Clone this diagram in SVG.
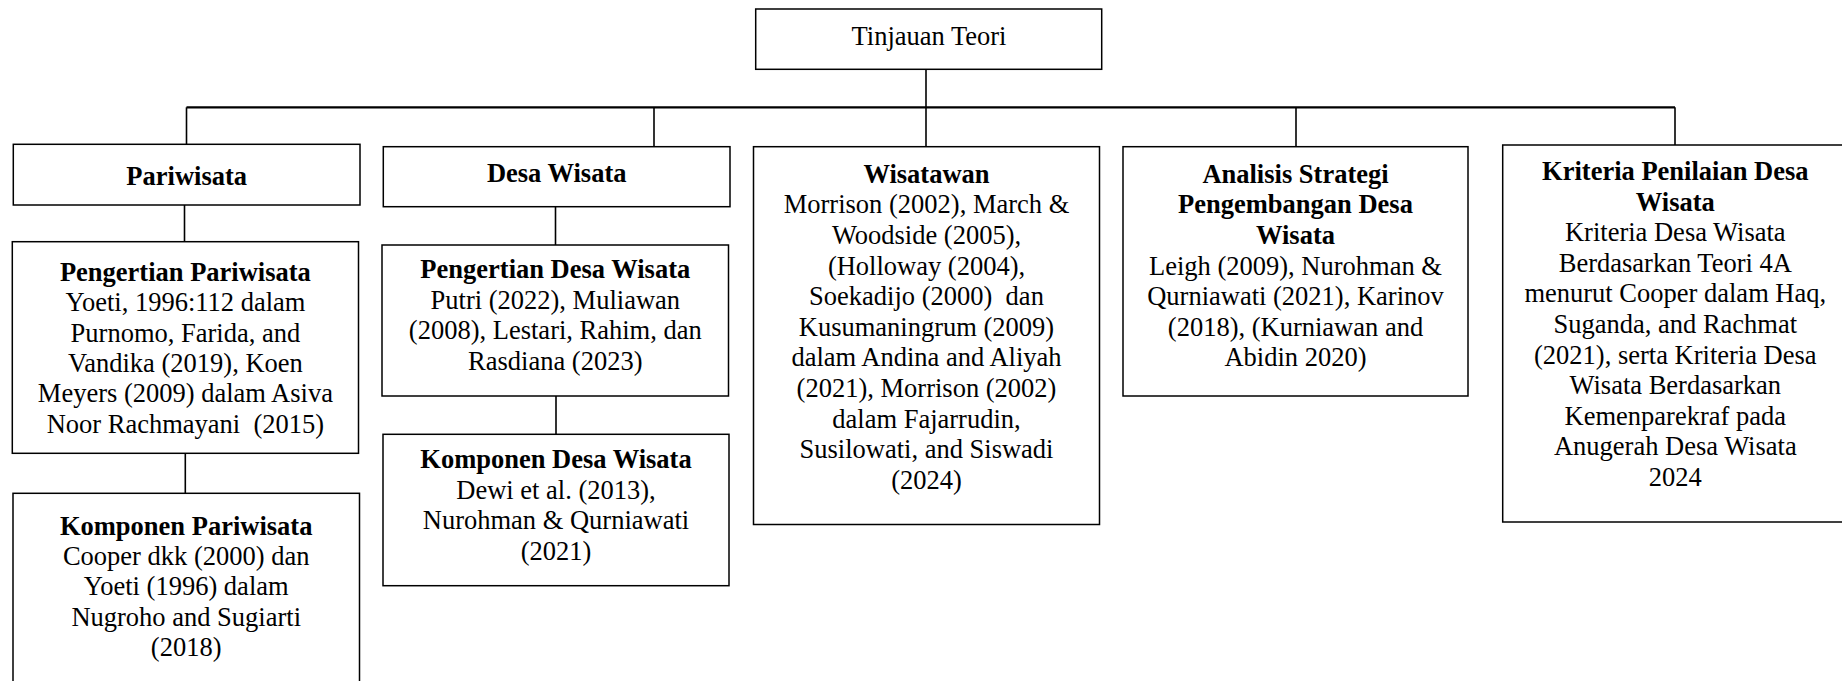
<svg xmlns="http://www.w3.org/2000/svg" width="1842" height="681" viewBox="0 0 1842 681">
<style>
.box{fill:#fff;stroke:#000;stroke-width:1.5}
.ln{stroke:#000;stroke-width:1.6;fill:none}
.bar{stroke:#000;stroke-width:2.2;fill:none}
text{font-family:"Liberation Serif","Times New Roman",serif;font-size:26.5px;fill:#000;text-anchor:middle}
.b{font-weight:bold}
</style>
<rect width="1842" height="681" fill="#fff"/>
<g id="connectors">
<line class="ln" x1="926" y1="69.3" x2="926" y2="107.3"/>
<line class="bar" x1="186.5" y1="107.3" x2="1675" y2="107.3"/>
<line class="ln" x1="186.5" y1="107.3" x2="186.5" y2="144.3"/>
<line class="ln" x1="654" y1="107.3" x2="654" y2="146.7"/>
<line class="ln" x1="926" y1="107.3" x2="926" y2="146.7"/>
<line class="ln" x1="1296" y1="107.3" x2="1296" y2="146.7"/>
<line class="ln" x1="1675" y1="107.3" x2="1675" y2="145"/>
<line class="ln" x1="184.5" y1="205" x2="184.5" y2="241.7"/>
<line class="ln" x1="185.3" y1="453.3" x2="185.3" y2="493.3"/>
<line class="ln" x1="555.5" y1="206.7" x2="555.5" y2="245"/>
<line class="ln" x1="556" y1="396" x2="556" y2="434.3"/>
</g>
<g id="tinjauan-teori">
<rect class="box" x="755.7" y="9" width="346" height="60.3"/>
<text x="929" y="45">Tinjauan Teori</text>
</g>
<g id="pariwisata">
<rect class="box" x="13.3" y="144.3" width="346.7" height="60.7"/>
<text class="b" x="186.7" y="185">Pariwisata</text>
</g>
<g id="desa-wisata">
<rect class="box" x="383.3" y="146.7" width="346.7" height="60"/>
<text class="b" x="556.7" y="181.7">Desa Wisata</text>
</g>
<g id="pengertian-pariwisata">
<rect class="box" x="12.3" y="241.7" width="346.2" height="211.6"/>
<text x="185.4" y="280.7"><tspan class="b">Pengertian Pariwisata</tspan><tspan x="185.4" dy="30.4">Yoeti, 1996:112 dalam</tspan><tspan x="185.4" dy="30.4">Purnomo, Farida, and</tspan><tspan x="185.4" dy="30.4">Vandika (2019), Koen</tspan><tspan x="185.4" dy="30.4">Meyers (2009) dalam Asiva</tspan><tspan x="185.4" dy="30.4" xml:space="preserve">Noor Rachmayani  (2015)</tspan></text>
</g>
<g id="komponen-pariwisata">
<rect class="box" x="13" y="493.3" width="346.5" height="220"/>
<text x="186.2" y="535"><tspan class="b">Komponen Pariwisata</tspan><tspan x="186.2" dy="30.2">Cooper dkk (2000) dan</tspan><tspan x="186.2" dy="30.2">Yoeti (1996) dalam</tspan><tspan x="186.2" dy="30.2">Nugroho and Sugiarti</tspan><tspan x="186.2" dy="30.2">(2018)</tspan></text>
</g>
<g id="pengertian-desa-wisata">
<rect class="box" x="382" y="245" width="346.5" height="151"/>
<text x="555.3" y="278.3"><tspan class="b">Pengertian Desa Wisata</tspan><tspan x="555.3" dy="30.4">Putri (2022), Muliawan</tspan><tspan x="555.3" dy="30.4">(2008), Lestari, Rahim, dan</tspan><tspan x="555.3" dy="30.4">Rasdiana (2023)</tspan></text>
</g>
<g id="komponen-desa-wisata">
<rect class="box" x="383" y="434.3" width="346" height="151.4"/>
<text x="556" y="468.3"><tspan class="b">Komponen Desa Wisata</tspan><tspan x="556" dy="30.4">Dewi et al. (2013),</tspan><tspan x="556" dy="30.4">Nurohman &amp; Qurniawati</tspan><tspan x="556" dy="30.4">(2021)</tspan></text>
</g>
<g id="wisatawan">
<rect class="box" x="753.5" y="146.7" width="346" height="377.8"/>
<text x="926.5" y="182.7"><tspan class="b">Wisatawan</tspan><tspan x="926.5" dy="30.6">Morrison (2002), March &amp;</tspan><tspan x="926.5" dy="30.6">Woodside (2005),</tspan><tspan x="926.5" dy="30.6">(Holloway (2004),</tspan><tspan x="926.5" dy="30.6" xml:space="preserve">Soekadijo (2000)  dan</tspan><tspan x="926.5" dy="30.6">Kusumaningrum (2009)</tspan><tspan x="926.5" dy="30.6">dalam Andina and Aliyah</tspan><tspan x="926.5" dy="30.6">(2021), Morrison (2002)</tspan><tspan x="926.5" dy="30.6">dalam Fajarrudin,</tspan><tspan x="926.5" dy="30.6">Susilowati, and Siswadi</tspan><tspan x="926.5" dy="30.6">(2024)</tspan></text>
</g>
<g id="analisis-strategi">
<rect class="box" x="1123" y="146.7" width="345" height="249.3"/>
<text x="1295.5" y="182.7"><tspan class="b">Analisis Strategi</tspan><tspan class="b" x="1295.5" dy="30.6">Pengembangan Desa</tspan><tspan class="b" x="1295.5" dy="30.6">Wisata</tspan><tspan x="1295.5" dy="30.6">Leigh (2009), Nurohman &amp;</tspan><tspan x="1295.5" dy="30.6">Qurniawati (2021), Karinov</tspan><tspan x="1295.5" dy="30.6">(2018), (Kurniawan and</tspan><tspan x="1295.5" dy="30.6">Abidin 2020)</tspan></text>
</g>
<g id="kriteria-penilaian">
<rect class="box" x="1502.7" y="145" width="345.3" height="377"/>
<text x="1675.3" y="180"><tspan class="b">Kriteria Penilaian Desa</tspan><tspan class="b" x="1675.3" dy="30.6">Wisata</tspan><tspan x="1675.3" dy="30.6">Kriteria Desa Wisata</tspan><tspan x="1675.3" dy="30.6">Berdasarkan Teori 4A</tspan><tspan x="1675.3" dy="30.6">menurut Cooper dalam Haq,</tspan><tspan x="1675.3" dy="30.6">Suganda, and Rachmat</tspan><tspan x="1675.3" dy="30.6">(2021), serta Kriteria Desa</tspan><tspan x="1675.3" dy="30.6">Wisata Berdasarkan</tspan><tspan x="1675.3" dy="30.6">Kemenparekraf pada</tspan><tspan x="1675.3" dy="30.6">Anugerah Desa Wisata</tspan><tspan x="1675.3" dy="30.6">2024</tspan></text>
</g>
</svg>
